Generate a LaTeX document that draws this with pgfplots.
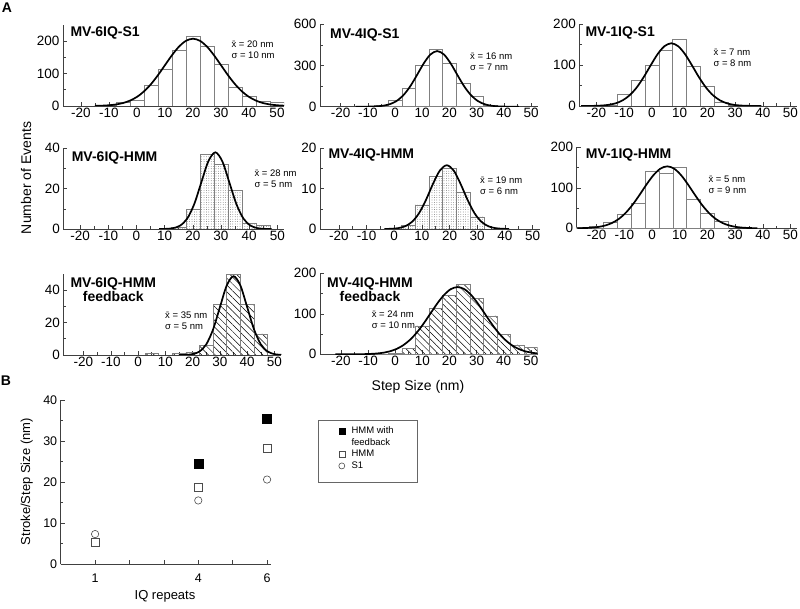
\documentclass[border=0pt]{standalone}
\usepackage{fontspec}
\setmainfont{Liberation Sans}
\usepackage{pgfplots}
\pgfplotsset{compat=1.18}
\usetikzlibrary{patterns.meta}

\newcommand\ticksize{\fontsize{13.5}{14}\selectfont}
\newcommand\statsize{\fontsize{9.5}{11}\selectfont}
\newcommand\titlesize{\fontsize{14}{12.4}\selectfont\bfseries}

\pgfplotsset{
  hist/.style={
    scale only axis, anchor=south west,
    axis x line*=bottom, axis y line*=left, tick pos=left,
    tick align=inside, major tick length=4pt, minor tick length=2.5pt,
    axis line style={black!75, line width=0.6pt},
    every tick/.append style={black!75, line width=0.5pt},
    xmax=52.5, ymin=0,
    xtick={-20,-10,...,50}, xticklabels={-20,-10,0,10,20,30,40,50},
    minor x tick num=1, minor y tick num=1,
    tick label style={font=\ticksize},
    xticklabel style={inner sep=1.5pt},
  },
  bars/.style={ybar, bar width=5, bar shift=0pt, draw=black!50, line width=0.5pt, fill=white},
  dotbars/.style={ybar, bar width=5, bar shift=0pt, draw=black!50, line width=0.5pt,
    pattern={Dots[distance=2.4pt, radius=0.35pt]}, pattern color=black!80},
  hatchbars/.style={ybar, bar width=5, bar shift=0pt, draw=black!50, line width=0.5pt,
    pattern={Lines[angle=-45, distance=4.8pt, line width=0.5pt]}, pattern color=black},
  fit/.style={black, line width=1.7pt, smooth, mark=none},
}

\begin{document}
\begin{tikzpicture}[x=1pt,y=1pt]
\useasboundingbox (0pt,0pt) rectangle (800pt,608pt);

% ---- row 1 ----
\begin{axis}[hist, at={(63pt,502pt)}, width=221pt, height=81.25pt,
  xmin=-26.4, ymax=250, ytick={0,100,200}, yticklabels={0,100,200}]
\addplot[bars] coordinates {(-10,3) (-5,13) (0,18) (5,64) (10,113) (15,172) (20,216) (25,184) (30,128) (35,59) (40,30) (45,14) (50,10)};
\addplot[fit] coordinates {(-15,0.45) (-12.5,1.05) (-10,2.3) (-7.5,4.7) (-5,9.1) (-2.5,16.5) (0,28) (2.5,44.8) (5,67.2) (7.5,94.8) (10,125.6) (12.5,156.2) (15,182.7) (17.5,200.6) (20,207) (22.5,200.6) (25,182.7) (27.5,156.2) (30,125.6) (32.5,94.8) (35,67.2) (37.5,44.8) (40,28) (42.5,16.5) (45,9.1) (47.5,4.7) (50,2.3) (52.5,1.05)};
\end{axis}

\begin{axis}[hist, at={(320pt,501.3pt)}, width=217.8pt, height=82.4pt,
  xmin=-27.6, ymax=600, ytick={0,300,600}, yticklabels={0,300,600}]
\addplot[bars] coordinates {(-10,4) (-5,10) (0,49) (5,134) (10,301) (15,418) (20,316) (25,170) (30,73) (35,12) (40,5)};
\addplot[fit] coordinates {(-14.5,0.04) (-12,0.18) (-9.5,0.69) (-7,2.31) (-4.5,6.84) (-2,17.8) (0.5,40.8) (3,82.3) (5.5,146) (8,228.1) (10.5,313.8) (13,380) (15.5,405) (18,380) (20.5,313.8) (23,228.1) (25.5,146) (28,82.3) (30.5,40.8) (33,17.8) (35.5,6.84) (38,2.31) (40.5,0.69) (43,0.18) (45.5,0.04)};
\end{axis}

\begin{axis}[hist, at={(579.3pt,502pt)}, width=218.1pt, height=82pt,
  xmin=-26.2, ymax=200, ytick={0,100,200}, yticklabels={0,100,200}]
\addplot[bars] coordinates {(-15,3) (-10,28) (-5,63) (0,99) (5,137) (10,163) (15,98) (20,49) (25,9) (30,3)};
\addplot[fit] coordinates {(-25.5,0.04) (-23,0.13) (-20.5,0.42) (-18,1.16) (-15.5,2.93) (-13,6.72) (-10.5,14.0) (-8,26.4) (-5.5,45.1) (-3,70.0) (-0.5,98.6) (2,125.9) (4.5,145.7) (7,153) (9.5,145.7) (12,125.9) (14.5,98.6) (17,70.0) (19.5,45.1) (22,26.4) (24.5,14.0) (27,6.72) (29.5,2.93) (32,1.16) (34.5,0.42) (37,0.13) (39.5,0.04)};
\end{axis}

% ---- row 2 ----
\begin{axis}[hist, at={(63.3pt,379pt)}, width=221pt, height=80.7pt,
  xmin=-26, ymax=40, ytick={0,20,40}, yticklabels={0,20,40}]
\addplot[dotbars] coordinates {(15,1) (20,10) (25,37) (30,32) (35,19) (40,3) (45,2)};
\addplot[fit] coordinates {(8,0.01) (10.5,0.08) (13,0.42) (15.5,1.67) (18,5.14) (20.5,12.3) (23,23.0) (25.5,33.5) (28,38) (30.5,33.5) (33,23.0) (35.5,12.3) (38,5.14) (40.5,1.67) (43,0.42) (45.5,0.08) (48,0.01)};
\end{axis}

\begin{axis}[hist, at={(320pt,379pt)}, width=219.5pt, height=80.7pt,
  xmin=-26.8, ymax=20, ytick={0,10,20}, yticklabels={0,10,20}]
\addplot[dotbars] coordinates {(5,1) (10,6) (15,13) (20,15) (25,9) (30,3)};
\addplot[fit] coordinates {(-3.5,0.014) (-1,0.06) (1.5,0.22) (4,0.69) (6.5,1.80) (9,3.94) (11.5,7.23) (14,11.16) (16.5,14.49) (19,15.8) (21.5,14.49) (24,11.16) (26.5,7.23) (29,3.94) (31.5,1.80) (34,0.69) (36.5,0.22) (39,0.06) (41.5,0.014)};
\end{axis}

\begin{axis}[hist, at={(576.7pt,379.7pt)}, width=220.7pt, height=81pt,
  xmin=-27.2, ymax=200, ytick={0,100,200}, yticklabels={0,100,200}]
\addplot[bars] coordinates {(-25,2) (-20,4) (-15,15) (-10,35) (-5,63) (0,142) (5,136) (10,150) (15,72) (20,37) (25,18)};
\addplot[fit] coordinates {(-27,0.22) (-24.5,0.59) (-22,1.44) (-19.5,3.23) (-17,6.72) (-14.5,13.0) (-12,23.1) (-9.5,38.2) (-7,58.3) (-4.5,82.5) (-2,108.1) (0.5,131.1) (3,147.2) (5.5,153) (8,147.2) (10.5,131.1) (13,108.1) (15.5,82.5) (18,58.3) (20.5,38.2) (23,23.1) (25.5,13.0) (28,6.72) (30.5,3.23) (33,1.44) (35.5,0.59) (38,0.22)};
\end{axis}

% ---- row 3 ----
\begin{axis}[hist, at={(63.3pt,253pt)}, width=218pt, height=81.25pt,
  xmin=-27.4, ymax=50, ytick={0,20,40}, yticklabels={0,20,40}]
\addplot[hatchbars] coordinates {(5,1) (15,1) (20,1.5) (25,6) (30,31) (35,49.5) (40,31) (45,13)};
\addplot[fit] coordinates {(15,0.016) (17.5,0.107) (20,0.54) (22.5,2.13) (25,6.56) (27.5,15.75) (30,29.4) (32.5,42.8) (35,48.5) (37.5,42.8) (40,29.4) (42.5,15.75) (45,6.56) (47.5,2.13) (50,0.54) (52.5,0.107)};
\end{axis}

\begin{axis}[hist, at={(320pt,253.7pt)}, width=217.6pt, height=81pt,
  xmin=-27.7, ymax=200, ytick={0,100,200}, yticklabels={0,100,200}]
\addplot[hatchbars] coordinates {(-5,1) (0,3) (5,15) (10,70) (15,114) (20,146) (25,173) (30,138) (35,95) (40,50) (45,23) (50,17)};
\addplot[fit] coordinates {(-22,0.03) (-17,0.06) (-14.5,0.15) (-12,0.36) (-9.5,0.84) (-7,1.84) (-4.5,3.78) (-2,7.29) (0.5,13.2) (3,22.5) (5.5,35.9) (8,53.9) (10.5,76.0) (13,100.7) (15.5,125.3) (18,146.5) (20.5,160.9) (23,166) (25.5,160.9) (28,146.5) (30.5,125.3) (33,100.7) (35.5,76.0) (38,53.9) (40.5,35.9) (43,22.5) (45.5,13.2) (48,7.29) (50.5,3.78) (52.5,2.1)};
\end{axis}

% ---- panel B ----
\begin{axis}[scale only axis, anchor=south west, at={(60.7pt,44pt)}, width=209.8pt, height=164pt,
  axis x line*=bottom, axis y line*=left, tick pos=left,
  tick align=inside, major tick length=4pt, minor tick length=2.5pt,
  axis line style={black!75, line width=0.6pt},
  every tick/.append style={black!75, line width=0.5pt},
  xmin=0, xmax=6.1, ymin=0, ymax=40,
  xtick={1,2,3,4,5,6}, xticklabels={1,,,4,,6},
  ytick={0,10,20,30,40}, yticklabels={0,10,20,30,40}, minor y tick num=1,
  tick label style={font=\fontsize{12.5}{12.5}\selectfont},
  xticklabel style={yshift=-6pt},
  legend style={at={(1.284,0.86)}, anchor=north west, draw=none, fill=none,
    font=\fontsize{9.5}{11}\selectfont, column sep=5pt,
    nodes={inner sep=1.7pt, text depth=0.15em}},
  legend cell align=left,
  legend image post style={mark size=3pt},
]
\addplot[only marks, mark=square*, mark size=4.5pt, black] coordinates {(4,24.4) (6,35.5)};
\addlegendentry{HMM with}
\addlegendimage{empty legend}
\addlegendentry{feedback}
\addplot[only marks, mark=square, mark size=4pt, black!70, line width=0.6pt] coordinates {(1,5.3) (4,18.6) (6,28.2)};
\addlegendentry{HMM}
\addplot[only marks, mark=o, mark size=3.7pt, black!70, line width=0.6pt] coordinates {(1,7.3) (4,15.5) (6,20.6)};
\addlegendentry{S1}
\end{axis}
\draw[black!60, line width=0.6pt] (318pt,126pt) rectangle (417pt,188pt);

% ---- text ----
\node[font=\fontsize{14}{14}\selectfont\bfseries] at (7pt,600.5pt) {A};
\node[font=\fontsize{14}{14}\selectfont\bfseries] at (6pt,227pt) {B};

\node[anchor=west, font=\titlesize] at (67pt,575pt) {MV-6IQ-S1};
\node[anchor=west, font=\titlesize] at (326.7pt,573pt) {MV-4IQ-S1};
\node[anchor=west, font=\titlesize] at (582pt,574.7pt) {MV-1IQ-S1};
\node[anchor=west, font=\titlesize] at (68.3pt,449.7pt) {MV-6IQ-HMM};
\node[anchor=west, font=\titlesize] at (325pt,453pt) {MV-4IQ-HMM};
\node[anchor=west, font=\titlesize] at (582.3pt,453pt) {MV-1IQ-HMM};
\node[align=center, font=\titlesize] at (113.3pt,318.5pt) {MV-6IQ-HMM\\feedback};
\node[align=center, font=\titlesize] at (370pt,318pt) {MV-4IQ-HMM\\feedback};

\node[anchor=west, align=left, font=\statsize] at (228pt,558.7pt) {x̄ = 20 nm\\σ = 10 nm};
\node[anchor=west, align=left, font=\statsize] at (466.7pt,546.3pt) {x̄ = 16 nm\\σ = 7 nm};
\node[anchor=west, align=left, font=\statsize] at (710pt,550.3pt) {x̄ = 7 nm\\σ = 8 nm};
\node[anchor=west, align=left, font=\statsize] at (251pt,429pt) {x̄ = 28 nm\\σ = 5 nm};
\node[anchor=west, align=left, font=\statsize] at (476.7pt,422.2pt) {x̄ = 19 nm\\σ = 6 nm};
\node[anchor=west, align=left, font=\statsize] at (705pt,423.5pt) {x̄ = 5 nm\\σ = 9 nm};
\node[anchor=west, align=left, font=\statsize] at (161.7pt,287.5pt) {x̄ = 35 nm\\σ = 5 nm};
\node[anchor=west, align=left, font=\statsize] at (368.3pt,288pt) {x̄ = 24 nm\\σ = 10 nm};

\node[rotate=90, font=\fontsize{14}{14}\selectfont] at (26pt,430pt) {Number of Events};
\node[font=\fontsize{14}{14}\selectfont] at (418pt,221pt) {Step Size (nm)};
\node[rotate=90, font=\fontsize{13}{13}\selectfont] at (26.7pt,126.3pt) {Stroke/Step Size (nm)};
\node[font=\fontsize{13}{13}\selectfont] at (165pt,11.3pt) {IQ repeats};
\end{tikzpicture}
\end{document}
